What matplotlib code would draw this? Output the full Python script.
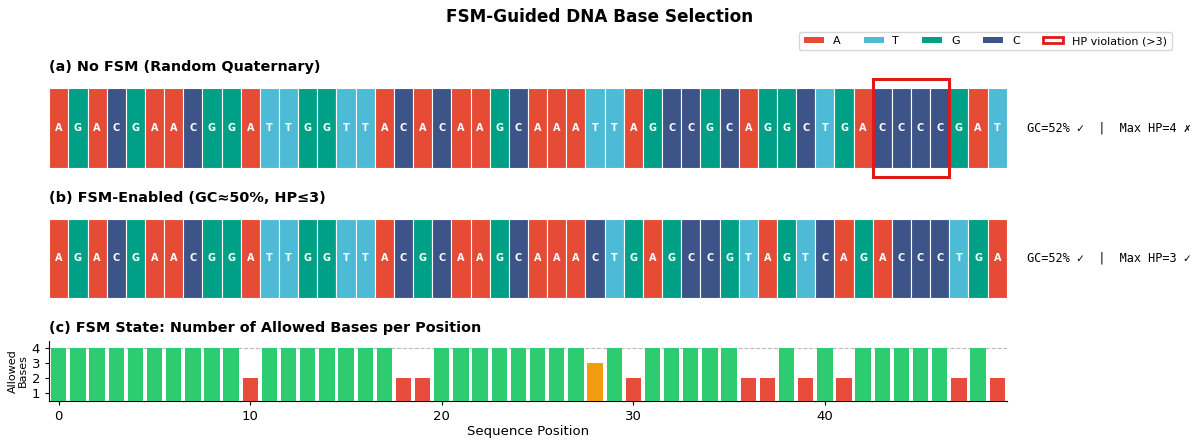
import matplotlib
matplotlib.use("Agg")
import matplotlib.pyplot as plt
from matplotlib.patches import Patch, Rectangle

# ---- data ----
seq_no_fsm = list("AGACGAACGGATTGGTTACACAAGCAAATTAGCCGCAGGCTGACCCCGAT")
seq_fsm = list("AGACGAACGGATTGGTTACGCAAGCAAACTGAGCCGTAGTCAGACCCTGA")
allowed = [4, 4, 4, 4, 4, 4, 4, 4, 4, 4,
           2, 4, 4, 4, 4, 4, 4, 4, 2, 2,
           4, 4, 4, 4, 4, 4, 4, 4, 3, 4,
           2, 4, 4, 4, 4, 4, 2, 2, 4, 2,
           4, 2, 4, 4, 4, 4, 4, 2, 4, 2]
hp_violation = (43, 4)  # start, length
stats_a = "GC=52% \u2713  |  Max HP=4 \u2717"
stats_b = "GC=52% \u2713  |  Max HP=3 \u2713"

base_colors = {"A": "#E64B35", "T": "#4DBBD5", "G": "#00A087", "C": "#3C5488"}
allowed_colors = {4: "#2ECC71", 3: "#F39C12", 2: "#E74C3C", 1: "#E74C3C"}

fig = plt.figure(figsize=(12, 4.43), dpi=100)
L, W = 0.041, 0.798
ax_a = fig.add_axes([L, 0.621, W, 0.180])
ax_b = fig.add_axes([L, 0.327, W, 0.179])
ax_c = fig.add_axes([L, 0.0955, W, 0.1355])


def draw_seq(ax, seq):
    n = len(seq)
    xs = list(range(n))
    ax.bar(xs, [1] * n, width=1.0, bottom=0,
           color=[base_colors[b] for b in seq], edgecolor="white", linewidth=0.8)
    for i, b in enumerate(seq):
        ax.text(i, 0.5, b, ha="center", va="center", color="white",
                fontsize=7, fontweight="bold")
    ax.set_xlim(-0.5, n - 0.5)
    ax.set_ylim(0, 1)
    ax.axis("off")


draw_seq(ax_a, seq_no_fsm)
draw_seq(ax_b, seq_fsm)

s, ln = hp_violation
ax_a.add_patch(Rectangle((s - 0.5, -0.12), ln, 1.24, fill=False,
                         edgecolor="#E0191A", linewidth=2.2, clip_on=False, zorder=5))

ax_a.text(1.021, 0.5, stats_a, transform=ax_a.transAxes, ha="left", va="center",
          fontsize=8.6, family=["DejaVu Sans Mono", "DejaVu Sans"])
ax_b.text(1.021, 0.5, stats_b, transform=ax_b.transAxes, ha="left", va="center",
          fontsize=8.6, family=["DejaVu Sans Mono", "DejaVu Sans"])

# panel c
pos = list(range(len(allowed)))
ax_c.bar(pos, allowed, width=0.8, color=[allowed_colors[v] for v in allowed], zorder=3)
ax_c.axhline(4, color="#bbbbbb", linestyle="--", linewidth=0.8, zorder=1)
ax_c.set_xlim(-0.5, len(allowed) - 0.5)
ax_c.set_ylim(0.5, 4.5)
ax_c.set_yticks([1, 2, 3, 4])
ax_c.set_xticks([0, 10, 20, 30, 40])
ax_c.tick_params(labelsize=9.5, length=3)
ax_c.spines["top"].set_visible(False)
ax_c.spines["right"].set_visible(False)
ax_c.set_ylabel("Allowed\nBases", fontsize=8, labelpad=3, linespacing=1.0)
ax_c.set_xlabel("Sequence Position", fontsize=9.5, labelpad=2)

# titles
fig.text(0.5, 1 - 17 / 443, "FSM-Guided DNA Base Selection", ha="center", va="center",
         fontsize=12.2, fontweight="bold")
fig.text(L, 1 - 67 / 443, "(a) No FSM (Random Quaternary)", ha="left", va="center",
         fontsize=10.4, fontweight="bold")
fig.text(L, 1 - 198 / 443, "(b) FSM-Enabled (GC\u224850%, HP\u22643)", ha="left", va="center",
         fontsize=10.4, fontweight="bold")
fig.text(L, 1 - 328 / 443, "(c) FSM State: Number of Allowed Bases per Position", ha="left",
         va="center", fontsize=10.4, fontweight="bold")

handles = [Patch(facecolor=base_colors[b], label=b) for b in "ATGC"]
handles.append(Patch(facecolor="white", edgecolor="#E0191A", linewidth=2, label="HP violation (>3)"))
fig.legend(handles=handles, loc="center right", bbox_to_anchor=(0.981, 1 - 41 / 443),
           ncol=5, fontsize=8, frameon=True, handlelength=1.8, columnspacing=2.1,
           borderpad=0.4, handleheight=0.55)

fig.savefig("out.png", dpi=100)
